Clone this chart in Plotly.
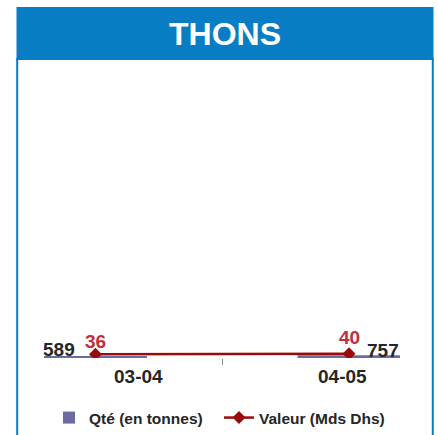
import plotly.graph_objects as go

# data
periods = ["03-04", "04-05"]
qty_tonnes = [589, 757]
value_mds_dhs = [36, 40]

TEXT = "#262626"
RED_TEXT = "#c0303a"
LINE_RED = "#9b0a0a"
BAR_COLOR = "#6b6b9e"
HEADER_BLUE = "#087dc3"
FONT = "Liberation Sans, Arial, sans-serif"

W, H = 437, 435

fig = go.Figure()

fig.add_trace(go.Bar(
    x=periods, y=qty_tonnes, name="Qté (en tonnes)",
    marker=dict(color=BAR_COLOR, line=dict(width=0)),
    width=0.406, yaxis="y",
))

fig.add_trace(go.Scatter(
    x=periods, y=value_mds_dhs, name="Valeur (Mds Dhs)",
    mode="lines+markers",
    line=dict(color=LINE_RED, width=2.5),
    marker=dict(symbol="diamond", size=10, color=LINE_RED),
    yaxis="y2",
))

label_font = dict(family=FONT, size=19, color=TEXT, weight=700)

# quantity labels beside the bars
annotations = [
    dict(x=periods[0], y=qty_tonnes[0], xref="x", yref="y", text=str(qty_tonnes[0]),
         showarrow=False, xshift=-36, yshift=6, font=label_font),
    dict(x=periods[1], y=qty_tonnes[1], xref="x", yref="y", text=str(qty_tonnes[1]),
         showarrow=False, xshift=34, yshift=5, font=label_font),
]
# value labels above the markers
for p, v, dy in zip(periods, value_mds_dhs, [13, 16]):
    annotations.append(dict(x=p, y=v, xref="x", yref="y2", text=str(v), showarrow=False,
                            yshift=dy, font=dict(family=FONT, size=19, color=RED_TEXT, weight=700)))
# category labels (offset like the original)
for p, shift in zip(periods, [43, -7]):
    annotations.append(dict(x=p, y=0, xref="x", yref="y", text=p, showarrow=False,
                            xshift=shift, yshift=-18, font=label_font))
# header title
annotations.append(dict(x=225 / W, y=1 - 34 / H, xref="paper", yref="paper", text="THONS",
                        xanchor="center", yanchor="middle", showarrow=False,
                        font=dict(family=FONT, size=32, color="white", weight=700)))

shapes = [
    dict(type="rect", xref="paper", yref="paper", x0=16.5 / W, x1=433.5 / W,
         y0=1 - 60 / H, y1=1 - 7 / H, fillcolor=HEADER_BLUE, line=dict(width=0), layer="below"),
    dict(type="line", xref="paper", yref="paper", x0=17.2 / W, x1=17.2 / W,
         y0=0, y1=1 - 58 / H, line=dict(color=HEADER_BLUE, width=2)),
    dict(type="line", xref="paper", yref="paper", x0=432.8 / W, x1=432.8 / W,
         y0=0, y1=1 - 58 / H, line=dict(color=HEADER_BLUE, width=2)),
]

fig.update_layout(
    width=W, height=H,
    margin=dict(l=0, r=0, t=0, b=0),
    paper_bgcolor="white", plot_bgcolor="white",
    font=dict(family=FONT, color=TEXT),
    xaxis=dict(type="category", domain=[44 / W, 400 / W], range=[-0.203, 1.201],
               showticklabels=False, showline=False, showgrid=False, zeroline=False,
               tickson="boundaries", ticks="outside", ticklen=6, tickcolor="#888888", tickwidth=1),
    yaxis=dict(domain=[(H - 358) / H, (H - 80) / H], range=[0, 80000],
               visible=False, showgrid=False, zeroline=False),
    yaxis2=dict(domain=[(H - 358) / H, (H - 80) / H], range=[0, 2600], overlaying="y",
                visible=False, showgrid=False, zeroline=False),
    showlegend=True,
    legend=dict(orientation="h", x=49 / W, xanchor="left", y=(H - 418) / H, yanchor="middle",
                font=dict(family=FONT, size=15.5, color=TEXT, weight=700),
                bgcolor="rgba(0,0,0,0)", itemwidth=30, entrywidth=125, entrywidthmode="pixels"),
    annotations=annotations,
    shapes=shapes,
)

# drop the browser's default body margin so the figure sits at the page origin
fig.write_html("out.html", config={"displayModeBar": False},
               post_script="document.body.style.margin='0';document.body.style.overflow='hidden';")
